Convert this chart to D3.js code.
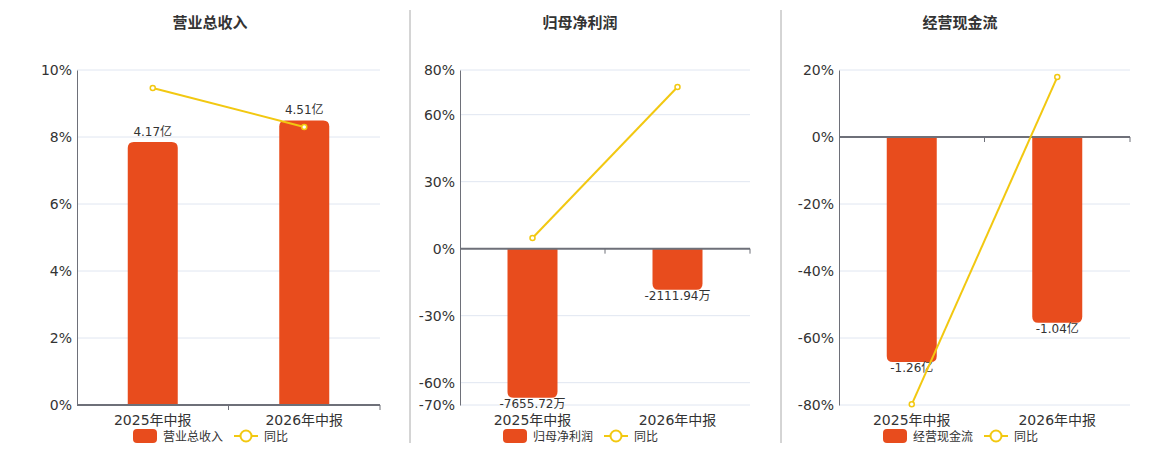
<!DOCTYPE html>
<html>
<head>
<meta charset="utf-8">
<script src="https://cdn.jsdelivr.net/npm/d3@7"></script>
<style>
  body { margin: 0; background: #fff; }
  svg { display: block; font-family: "DejaVu Sans", "Noto Sans CJK SC", sans-serif; }
</style>
</head>
<body>
<svg width="1160" height="450"></svg>
<script>
// data
const categories = ["2025年中报", "2026年中报"];
const titles = ["营业总收入", "归母净利润", "经营现金流"];

const revenueValues = [4.17, 4.51];
const revenueLabels = ["4.17亿", "4.51亿"];
const revenueYoY = [9.46, 8.3];
const revenueTicks = [0, 2, 4, 6, 8, 10];

const profitValues = [-7655.72, -2111.94];
const profitLabels = ["-7655.72万", "-2111.94万"];
const profitYoY = [4.8, 72.4];
const profitTicks = [80, 60, 30, 0, -30, -60, -70];

const cashValues = [-1.26, -1.04];
const cashLabels = ["-1.26亿", "-1.04亿"];
const cashYoY = [-79.8, 17.9];
const cashTicks = [20, 0, -20, -40, -60, -80];

const barColor = "#e84c1d";
const lineColor = "#f2c811";
const plotTop = 70, plotBottom = 405;

const svg = d3.select("svg");

// one config per panel, layout lives here
const panels = [
  { left: 77, right: 380, title: titles[0], titleX: 210, values: revenueValues, labels: revenueLabels,
    yoy: revenueYoY, ticks: revenueTicks, barMin: 0, barMax: 5.31 },
  { left: 460, right: 750, title: titles[1], titleX: 580, values: profitValues, labels: profitLabels,
    yoy: profitYoY, ticks: profitTicks, barMin: -8030, barMax: 8030 * 80 / 70 },
  { left: 839, right: 1130, title: titles[2], titleX: 960, values: cashValues, labels: cashLabels,
    yoy: cashYoY, ticks: cashTicks, barMin: -1.5, barMax: 0.375 }
];

// dividers between panels
[410, 781].forEach(x => {
  svg.append("line").attr("x1", x).attr("x2", x).attr("y1", 10).attr("y2", 443)
    .attr("stroke", "#aaa").attr("stroke-width", 1);
});

// rounded only at the value end of the bar
function barPath(x, w, y0, y1, r) {
  const h = Math.abs(y1 - y0);
  r = Math.min(r, h, w / 2);
  if (y1 < y0) { // positive, round top
    return `M${x},${y0}V${y1 + r}Q${x},${y1} ${x + r},${y1}H${x + w - r}Q${x + w},${y1} ${x + w},${y1 + r}V${y0}Z`;
  }
  return `M${x},${y0}V${y1 - r}Q${x},${y1} ${x + r},${y1}H${x + w - r}Q${x + w},${y1} ${x + w},${y1 - r}V${y0}Z`;
}

panels.forEach(p => {
  const g = svg.append("g");
  const yMax = d3.max(p.ticks), yMin = d3.min(p.ticks);
  const y = d3.scaleLinear().domain([yMin, yMax]).range([plotBottom, plotTop]);
  const yBar = d3.scaleLinear().domain([p.barMin, p.barMax]).range([plotBottom, plotTop]);
  const x = d3.scaleBand().domain(categories).range([p.left, p.right]);
  const bw = 50;

  // title
  g.append("text").attr("x", p.titleX).attr("y", 28).attr("text-anchor", "middle")
    .attr("font-size", 15).attr("font-weight", "bold").attr("fill", "#333")
    .attr("font-family", "'Noto Sans CJK SC', sans-serif").text(p.title);

  // grid
  g.selectAll(".grid").data(p.ticks).join("line")
    .attr("x1", p.left).attr("x2", p.right)
    .attr("y1", d => y(d)).attr("y2", d => y(d))
    .attr("stroke", "#e0e6f1").attr("stroke-width", 1);

  // y axis
  const yAxis = g.append("g").attr("transform", `translate(${p.left},0)`)
    .call(d3.axisLeft(y).tickValues(p.ticks).tickFormat(d => d + "%").tickSize(0).tickPadding(5));
  yAxis.select(".domain").attr("stroke", "#6e7079");
  yAxis.selectAll("text").attr("font-size", 14).attr("fill", "#333")
    .attr("font-family", "'DejaVu Sans', sans-serif");

  // bars
  const y0 = yBar(0);
  g.selectAll(".bar").data(p.values).join("path")
    .attr("d", (d, i) => barPath(x(categories[i]) + (x.bandwidth() - bw) / 2, bw, y0, yBar(d), 6))
    .attr("fill", barColor);

  // bar labels
  g.selectAll(".blabel").data(p.values).join("text")
    .attr("x", (d, i) => x(categories[i]) + x.bandwidth() / 2)
    .attr("y", d => d >= 0 ? yBar(d) - 6 : yBar(d) + 10)
    .attr("text-anchor", "middle").attr("font-size", 12).attr("fill", "#333")
    .text((d, i) => p.labels[i]);

  // x axis at zero
  const xAxis = g.append("g").attr("transform", `translate(0,${y(0)})`);
  xAxis.append("line").attr("x1", p.left).attr("x2", p.right)
    .attr("stroke", "#6e7079").attr("stroke-width", 2);
  [x.bandwidth() + p.left, p.right].forEach(tx => {
    xAxis.append("line").attr("x1", tx).attr("x2", tx).attr("y1", 0).attr("y2", 5)
      .attr("stroke", "#6e7079").attr("stroke-width", 1);
  });
  g.selectAll(".xlabel").data(categories).join("text")
    .attr("x", d => x(d) + x.bandwidth() / 2).attr("y", 425)
    .attr("text-anchor", "middle").attr("font-size", 14).attr("fill", "#333")
    .text(d => d);

  // yoy line
  const line = d3.line().x((d, i) => x(categories[i]) + x.bandwidth() / 2).y(d => y(d));
  g.append("path").datum(p.yoy).attr("d", line)
    .attr("fill", "none").attr("stroke", lineColor).attr("stroke-width", 2);
  g.selectAll(".pt").data(p.yoy).join("circle")
    .attr("cx", (d, i) => x(categories[i]) + x.bandwidth() / 2).attr("cy", d => y(d))
    .attr("r", 2.5).attr("fill", "#fff").attr("stroke", lineColor).attr("stroke-width", 1.5);

  // legend, centred under the title
  const lx = p.titleX - 77;
  const lg = g.append("g").attr("transform", `translate(${lx},436)`);
  lg.append("rect").attr("x", 0).attr("y", -7).attr("width", 24).attr("height", 14).attr("rx", 4)
    .attr("fill", barColor);
  lg.append("text").attr("x", 30).attr("y", 4.5).attr("font-size", 12).attr("fill", "#333")
    .text(p.title);
  const lx2 = 101;
  lg.append("line").attr("x1", lx2).attr("x2", lx2 + 24).attr("stroke", lineColor).attr("stroke-width", 2);
  lg.append("circle").attr("cx", lx2 + 12).attr("r", 5.5).attr("fill", "#fff")
    .attr("stroke", lineColor).attr("stroke-width", 2);
  lg.append("text").attr("x", lx2 + 30).attr("y", 4.5).attr("font-size", 12).attr("fill", "#333")
    .text("同比");
});
</script>
</body>
</html>
